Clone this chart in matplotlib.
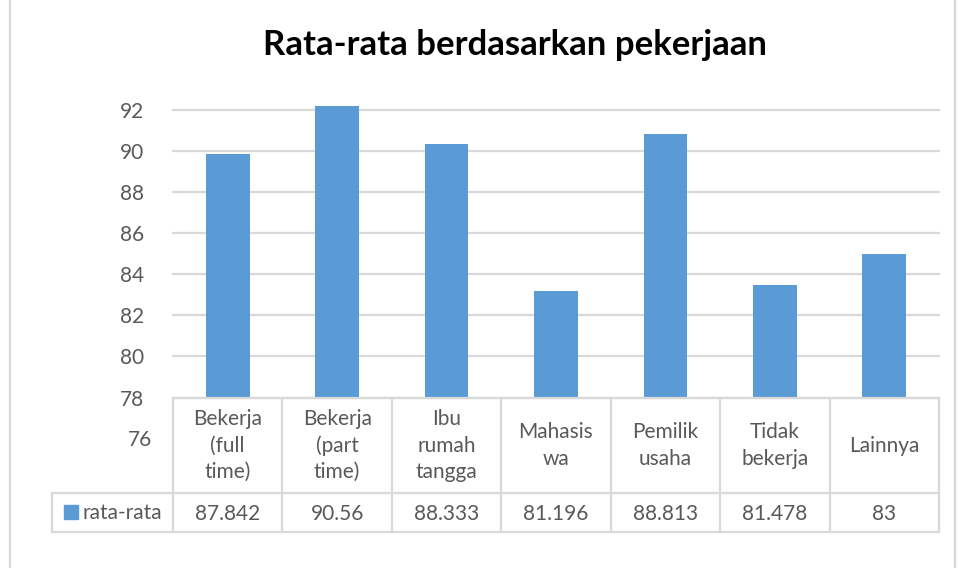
import matplotlib
matplotlib.use("Agg")
import matplotlib.pyplot as plt
from matplotlib.lines import Line2D
from matplotlib.patches import Rectangle
from matplotlib.transforms import blended_transform_factory

categories = ["Bekerja\n(full\ntime)", "Bekerja\n(part\ntime)", "Ibu\nrumah\ntangga",
              "Mahasis\nwa", "Pemilik\nusaha", "Tidak\nbekerja", "Lainnya"]
values = [87.842, 90.56, 88.333, 81.196, 88.813, 81.478, 83]
value_labels = ["87.842", "90.56", "88.333", "81.196", "88.813", "81.478", "83"]
series_name = "rata-rata"
title = "Rata-rata berdasarkan pekerjaan"
tick_values = [76, 78, 80, 82, 84, 86, 88, 90]
tick_labels = ["78", "80", "82", "84", "86", "88", "90", "92"]
extra_tick_label = "76"

W, H = 958, 568
BAR = "#5b9bd5"
GRID = "#d9d9d9"
TXT = "#595959"
FONT = ["Lato", "DejaVu Sans"]
FS = 15

fig = plt.figure(figsize=(W / 100, H / 100), dpi=100)
fig.patch.set_facecolor("white")

def fx(px):
    return px / W

def fy(py):
    return 1 - py / H

ax_left, ax_right, ax_top, ax_bottom = 173, 939, 106, 397.5
ax = fig.add_axes([fx(ax_left), fy(ax_bottom), fx(ax_right - ax_left), (ax_bottom - ax_top) / H])
ax.set_xlim(-0.5, len(categories) - 0.5)
ax.bar(range(len(values)), values, width=0.4, bottom=0, color=BAR, zorder=3)
ax.set_ylim(76, 90.2)
for s in ax.spines.values():
    s.set_visible(False)
ax.set_xticks([])
ax.set_yticks(tick_values)
ax.set_yticklabels(tick_labels, fontsize=FS, color=TXT, family=FONT)
ax.tick_params(axis="y", length=0, pad=21)
ax.yaxis.grid(True, color=GRID, linewidth=1.6, zorder=0)
for gl in ax.get_ygridlines():
    gl.set_clip_on(False)
ax.set_facecolor("none")

# extra tick label below axis
fig.text(fx(152), fy(440), extra_tick_label, ha="right", va="center",
         fontsize=FS, color=TXT, family=FONT)

# title
fig.text(fx(515), fy(45), title, ha="center", va="center", fontsize=25,
         fontweight="bold", color="black", family=FONT)

# data table
tr = blended_transform_factory(ax.transData, fig.transFigure)
row1_top, row1_bot, row2_bot = 398, 493, 532
leg_left = 52
def hline(x0, x1, y):
    fig.add_artist(Line2D([fx(x0), fx(x1)], [fy(y), fy(y)], color=GRID, lw=1.6))
def vline(x, y0, y1):
    fig.add_artist(Line2D([fx(x), fx(x)], [fy(y0), fy(y1)], color=GRID, lw=1.6))

hline(ax_left, ax_right, row1_top)
hline(leg_left, ax_right, row1_bot)
hline(leg_left, ax_right, row2_bot)
vline(leg_left, row1_bot, row2_bot)
n = len(categories)
for i in range(n + 1):
    xpix = ax_left + (ax_right - ax_left) * i / n
    vline(xpix, row1_top, row2_bot)

for i, (c, v) in enumerate(zip(categories, value_labels)):
    fig.text(i, fy((row1_top + row1_bot) / 2), c, transform=tr, ha="center", va="center",
             fontsize=FS, color=TXT, family=FONT, linespacing=1.4)
    fig.text(i, fy((row1_bot + row2_bot) / 2 + 1), v, transform=tr, ha="center", va="center",
             fontsize=FS, color=TXT, family=FONT)

# legend key
fig.add_artist(Rectangle((fx(64), fy(519)), fx(14), 14 / H, color=BAR))
fig.text(fx(83), fy(513), series_name, ha="left", va="center", fontsize=FS,
         color=TXT, family=FONT)

# chart border
vline(10, 0, H)
vline(955, 0, H)

fig.savefig("out.png", dpi=100, facecolor="white")
